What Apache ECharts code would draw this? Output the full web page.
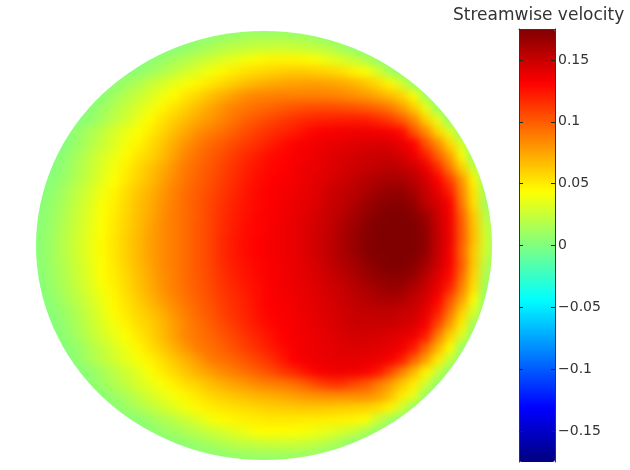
<!DOCTYPE html>
<html lang="en">
<head>
    <meta charset="UTF-8">
    <title>Streamwise velocity</title>
    <script src="https://cdn.jsdelivr.net/npm/echarts@6/dist/echarts.min.js"></script>
    <style>
        html, body { margin: 0; background: #fff; }
        .layer { position: absolute; left: 0; top: 0; width: 630px; height: 470px; }
        /* the disk: cells are softened, then cut to the ellipse */
        #disk { clip-path: ellipse(228px 214.5px at 264px 245.5px); }
        #heat { filter: blur(4px); }
    </style>
</head>
<body>
<div id="disk" class="layer"><div id="heat" class="layer"></div></div>
<div id="main" class="layer"></div>

<script type="text/javascript">
    var chartTitle = 'Streamwise velocity';
    var tickValues = [-0.15, -0.1, -0.05, 0, 0.05, 0.1, 0.15];
    var jetColors = ['#000080', '#0000ff', '#0080ff', '#00ffff', '#80ff80', '#ffff00', '#ff8000', '#ff0000', '#800000'];
    var colorMin = -0.175;
    var colorMax = 0.175;

    // first column of each row that touches the disk
    var rowStart = [12,10,8,7,5,4,3,3,2,2,1,1,1,0,0,0,0,0,0,0,0,0,0,1,1,1,2,2,3,3,4,5,7,8,10,12];
    // velocity, in thousandths, one line per row from the top
    var velocityRows = [
        [3,4,6,8,10,12,13,13,13,12,11,8,5,3],
        [2,3,6,10,14,18,21,23,25,26,27,26,24,22,18,12,6,2],
        [2,4,8,13,18,23,27,32,36,40,45,47,47,47,45,41,36,31,25,17,8,2],
        [2,5,10,16,22,28,34,40,46,50,54,57,59,61,62,62,60,58,54,48,42,30,14,3],
        [2,4,11,17,24,30,36,42,47,52,57,62,67,70,73,75,76,77,77,76,74,70,64,56,46,30,8,2],
        [2,4,11,18,24,31,38,45,52,58,65,71,77,83,86,87,88,88,88,88,87,85,82,79,73,67,59,42,12,2],
        [2,3,10,17,24,31,38,46,53,60,67,74,81,87,91,94,97,100,103,105,106,106,105,103,100,96,90,78,62,38,8,2],
        [2,6,13,21,28,36,45,53,60,67,74,80,86,92,98,103,107,111,115,118,120,121,122,122,122,118,111,100,85,60,36,5],
        [2,8,15,22,30,37,43,50,58,66,74,82,88,93,99,105,110,115,119,122,127,132,134,135,136,136,135,133,128,103,84,58,34,4],
        [2,9,17,24,32,40,47,55,63,72,81,89,95,100,106,111,116,121,126,131,134,136,138,140,142,143,144,143,138,131,103,84,57,30],
        [2,6,14,22,30,37,45,52,58,66,76,86,93,99,105,111,117,122,127,130,133,135,138,141,144,146,148,149,149,145,137,122,98,76,42,5],
        [2,8,16,24,32,40,49,57,64,72,81,90,96,102,108,114,120,125,129,131,134,137,139,142,145,148,150,153,155,153,148,138,118,90,60,25],
        [4,10,18,26,34,43,51,59,66,75,84,92,98,104,110,116,122,127,131,133,135,138,141,144,148,152,156,159,161,160,155,146,132,110,80,46,3],
        [2,7,14,22,30,39,47,55,63,70,79,87,94,100,106,112,118,124,129,132,134,136,139,142,148,152,155,159,165,168,168,161,151,140,122,86,52,12],
        [3,9,16,24,32,42,49,57,65,72,81,88,95,101,107,114,120,125,129,132,135,137,140,144,150,153,158,165,169,172,172,167,154,145,133,90,54,12],
        [4,10,18,26,34,43,50,58,66,73,82,89,95,101,108,115,121,126,130,133,135,138,142,146,151,156,162,168,173,175,175,172,165,149,135,98,62,20],
        [4,11,19,27,35,44,51,59,67,75,83,89,95,102,108,116,122,127,130,133,136,139,143,147,152,159,165,171,175,175,175,175,168,151,136,100,65,25],
        [5,12,20,28,36,45,52,60,68,76,83,89,95,102,108,117,123,128,131,134,136,139,143,148,153,160,166,172,175,175,175,175,169,152,137,100,66,28],
        [5,12,20,28,36,45,52,60,68,76,83,89,95,102,108,117,123,128,131,134,136,139,143,148,153,160,166,172,175,175,175,175,168,151,135,97,62,26],
        [5,12,19,27,35,44,51,59,67,75,83,89,95,102,108,116,122,126,130,133,135,138,142,146,152,157,162,168,173,175,175,171,163,148,133,100,62,20],
        [4,11,18,26,34,44,50,57,65,73,82,88,95,101,107,114,120,125,129,133,135,138,141,145,150,154,159,165,169,171,171,167,155,143,129,94,58,14],
        [3,9,16,24,32,41,48,56,64,72,81,88,94,100,106,113,118,123,128,132,135,137,140,143,147,151,155,159,163,167,166,158,150,138,120,86,54,10],
        [2,7,14,21,29,38,46,53,61,69,77,85,92,98,104,111,116,121,127,132,134,136,139,142,145,149,153,156,159,160,158,152,145,131,103,76,42,4],
        [4,10,17,26,35,45,51,58,64,72,81,89,96,102,109,115,120,126,131,133,135,138,141,144,147,151,152,153,153,151,148,139,122,92,60,30,3],
        [2,8,15,24,32,40,48,55,60,68,77,86,93,99,106,112,118,124,129,132,134,137,140,143,146,149,150,150,149,147,143,134,108,78,50,12],
        [2,6,13,21,29,36,43,51,58,67,76,86,91,96,102,108,114,120,125,131,134,136,138,141,144,146,146,145,143,140,136,122,88,60,32,4],
        [2,8,16,23,31,38,46,54,62,71,80,89,93,98,104,110,116,122,128,133,136,138,140,142,143,143,141,139,136,123,96,70,44,8],
        [2,7,14,21,28,35,41,48,55,63,70,79,89,93,97,103,109,115,123,132,135,137,139,140,140,139,137,134,122,98,76,50,24,2],
        [2,6,13,20,27,34,42,50,57,64,71,77,84,89,94,99,105,112,118,126,133,135,136,135,133,125,108,87,68,47,25,3],
        [2,4,10,17,23,30,36,43,49,55,60,66,71,76,80,85,88,90,94,100,108,115,115,108,102,90,78,63,50,28,5,2],
        [2,3,9,15,22,29,35,41,47,52,57,61,64,67,70,72,74,77,80,82,83,83,83,83,78,66,50,36,7,2],
        [2,4,9,15,21,27,33,40,46,49,52,54,56,58,60,61,62,63,63,62,61,60,59,55,47,28,6,2],
        [2,5,10,15,20,26,32,40,45,47,49,50,51,51,51,50,50,49,48,47,42,26,12,3],
        [2,4,8,12,16,20,25,29,34,38,43,44,44,43,41,38,34,29,24,15,5,2],
        [2,3,6,9,13,17,20,22,24,25,26,26,24,21,17,11,4,2],
        [2,3,4,6,8,9,10,10,10,10,9,7,4,2]
    ];

    var columnCount = 38;
    var columns = [];
    var rows = [];
    var heatData = [];
    for (var c = 0; c < columnCount; c++) {
        columns.push(c);
    }
    for (var r = 0; r < velocityRows.length; r++) {
        rows.push(r);
        for (var k = 0; k < velocityRows[r].length; k++) {
            heatData.push([rowStart[r] + k, r, velocityRows[r][k] / 1000]);
        }
    }

    var fontName = '"DejaVu Sans", sans-serif';

    function barAxis(side) {
        return {
            type: 'value',
            position: side,
            min: colorMin,
            max: colorMax,
            z: 6,
            splitLine: { show: false },
            axisLine: { show: true, onZero: false, lineStyle: { color: '#333', width: 1 } },
            axisTick: { show: true, inside: true, length: 4, customValues: tickValues, lineStyle: { color: '#222' } },
            axisLabel: {
                show: side === 'right',
                customValues: tickValues,
                margin: 3,
                color: '#333',
                fontFamily: fontName,
                fontSize: 14,
                formatter: function (val) {
                    return String(val).replace('-', '\u2212');
                }
            }
        };
    }

    // heat cells, on the blurred layer; the green behind them is the edge colour
    var heatChart = echarts.init(document.getElementById('heat'));
    heatChart.setOption({
        animation: false,
        backgroundColor: '#86ff7a',
        grid: { left: 36, top: 30, width: 456, height: 432 },
        xAxis: { type: 'category', data: columns, show: false },
        yAxis: { type: 'category', data: rows, inverse: true, show: false },
        visualMap: {
            type: 'continuous',
            show: false,
            min: colorMin,
            max: colorMax,
            inRange: { color: jetColors }
        },
        series: [{
            type: 'heatmap',
            data: heatData,
            progressive: 0,
            itemStyle: { borderWidth: 0 }
        }]
    });

    // title and colour bar, on top
    var myChart = echarts.init(document.getElementById('main'));
    myChart.setOption({
        animation: false,
        title: {
            text: chartTitle,
            left: 448,
            top: 2,
            textStyle: { color: '#333', fontFamily: fontName, fontWeight: 'normal', fontSize: 17 }
        },
        grid: { left: 519, top: 29, width: 36, height: 433 },
        xAxis: {
            type: 'value', position: 'top', min: 0, max: 1, z: 6,
            splitLine: { show: false },
            axisTick: { show: false },
            axisLabel: { show: false },
            axisLine: { show: true, onZero: false, lineStyle: { color: '#333', width: 1 } }
        },
        yAxis: [barAxis('left'), barAxis('right')],
        visualMap: {
            type: 'continuous',
            min: colorMin,
            max: colorMax,
            calculable: false,
            left: 519,
            top: 29,
            padding: 0,
            itemWidth: 36,
            itemHeight: 433,
            text: null,
            showLabel: false,
            seriesIndex: [],
            inRange: { color: jetColors }
        },
        series: []
    });
</script>
</body>
</html>
